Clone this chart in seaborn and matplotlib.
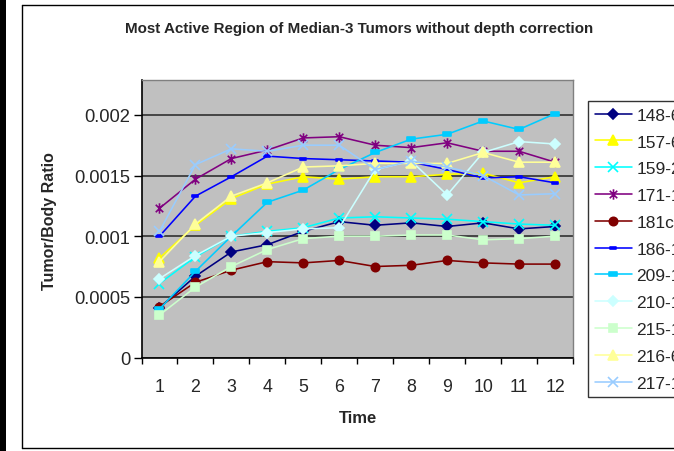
import numpy as np
import pandas as pd
import seaborn as sns
import matplotlib
matplotlib.use("Agg")
import matplotlib.pyplot as plt
from matplotlib.path import Path
from matplotlib.lines import Line2D
from matplotlib.patches import Rectangle

# ---- data -------------------------------------------------------------
time = list(range(1, 13))
tumors = ["148-6", "157-6", "159-2", "171-1", "181c-1", "186-1",
          "209-1", "210-1", "215-1", "216-6", "217-1"]

t148_6 = [0.00041, 0.00067, 0.00087, 0.00093, 0.00104, 0.00112, 0.00109, 0.00111, 0.00108, 0.00111, 0.00106, 0.00108]
t157_6 = [0.00082, 0.00109, 0.00131, 0.00143, 0.00149, 0.00147, 0.00149, 0.00149, 0.00151, 0.00152, 0.00144, 0.00149]
t159_2 = [0.00061, 0.00083, 0.00100, 0.00104, 0.00107, 0.00115, 0.00116, 0.00115, 0.00114, 0.00112, 0.00110, 0.00109]
t171_1 = [0.00123, 0.00147, 0.00164, 0.00171, 0.00181, 0.00182, 0.00175, 0.00173, 0.00177, 0.00170, 0.00170, 0.00161]
t181c_1 = [0.00042, 0.00062, 0.00072, 0.00079, 0.00078, 0.00080, 0.00075, 0.00076, 0.00080, 0.00078, 0.00077, 0.00077]
t186_1 = [0.00100, 0.00133, 0.00149, 0.00166, 0.00164, 0.00163, 0.00162, 0.00161, 0.00155, 0.00148, 0.00149, 0.00144]
t209_1 = [0.00040, 0.00071, 0.00100, 0.00128, 0.00138, 0.00155, 0.00169, 0.00180, 0.00184, 0.00195, 0.00188, 0.00201]
t210_1 = [0.00065, 0.00084, 0.00100, 0.00103, 0.00106, 0.00107, 0.00155, 0.00162, 0.00134, 0.00169, 0.00178, 0.00176]
t215_1 = [0.00035, 0.00058, 0.00075, 0.00089, 0.00098, 0.00100, 0.00100, 0.00101, 0.00101, 0.00097, 0.00098, 0.00100]
t216_6 = [0.00079, 0.00110, 0.00133, 0.00144, 0.00157, 0.00158, 0.00160, 0.00160, 0.00160, 0.00169, 0.00161, 0.00161]
t217_1 = [0.00104, 0.00159, 0.00172, 0.00170, 0.00175, 0.00175, 0.00155, 0.00162, 0.00157, 0.00150, 0.00134, 0.00135]

series = [t148_6, t157_6, t159_2, t171_1, t181c_1, t186_1,
          t209_1, t210_1, t215_1, t216_6, t217_1]

y_ticks = [0, 0.0005, 0.001, 0.0015, 0.002]
y_tick_labels = ["0", "0.0005", "0.001", "0.0015", "0.002"]

df = pd.DataFrame({
    "Time": np.tile(time, len(tumors)),
    "Ratio": np.concatenate(series),
    "Tumor": np.repeat(tumors, len(time)),
})

# ---- marker shapes ----------------------------------------------------
asterisk = Path(
    [(0, -1), (0, 1), (-0.72, -0.72), (0.72, 0.72), (-0.72, 0.72), (0.72, -0.72)],
    [Path.MOVETO, Path.LINETO, Path.MOVETO, Path.LINETO, Path.MOVETO, Path.LINETO],
)
dash = Path(
    [(-1, -0.4), (1, -0.4), (1, 0.4), (-1, 0.4), (-1, -0.4)],
    [Path.MOVETO, Path.LINETO, Path.LINETO, Path.LINETO, Path.CLOSEPOLY],
)

styles = {
    "148-6":  dict(color="#000080", marker="D", ms=4.6),
    "157-6":  dict(color="#FFFF00", marker="^", ms=7.5),
    "159-2":  dict(color="#00FFFF", marker="x", ms=6.5),
    "171-1":  dict(color="#800080", marker=asterisk, ms=7.5),
    "181c-1": dict(color="#800000", marker="o", ms=6.0),
    "186-1":  dict(color="#0000FF", marker=dash, ms=3.8),
    "209-1":  dict(color="#00CCFF", marker=dash, ms=5.8),
    "210-1":  dict(color="#CCFFFF", marker="D", ms=5.0),
    "215-1":  dict(color="#CCFFCC", marker="s", ms=5.4),
    "216-6":  dict(color="#FFFF99", marker="^", ms=7.5),
    "217-1":  dict(color="#99CCFF", marker="x", ms=6.5),
}

# ---- figure -----------------------------------------------------------
sns.set_style("white")
plt.rcParams["font.family"] = ["Liberation Sans", "DejaVu Sans"]

W, H = 674, 452
fig = plt.figure(figsize=(W / 100, H / 100), dpi=100)
fig.patch.set_facecolor("white")

ax = fig.add_axes([141.5 / W, 1 - 358.5 / H, (573 - 141.5) / W, (358.5 - 80.7) / H])
ax.set_facecolor("#C0C0C0")

for name in tumors:
    st = styles[name]
    sub = df[df["Tumor"] == name]
    sns.lineplot(data=sub, x="Time", y="Ratio", ax=ax, color=st["color"],
                 marker=st["marker"], markersize=st["ms"],
                 markeredgecolor=st["color"], markerfacecolor=st["color"],
                 markeredgewidth=1.2, linewidth=1.15, label=name,
                 errorbar=None, zorder=3)

# axes ranges and ticks
ax.set_xlim(0.5, 12.5)
ax.set_ylim(0, 0.00229)
ax.set_xticks(np.arange(0.5, 13, 1))
ax.set_xticklabels([])
ax.set_xticks(time, minor=True)
ax.set_xticklabels([str(t) for t in time], minor=True)
ax.set_yticks(y_ticks)
ax.set_yticklabels(y_tick_labels)

ax.tick_params(axis="x", which="major", direction="out", length=4, width=1, color="black")
ax.tick_params(axis="x", which="minor", length=0, pad=14.5, labelsize=12.8)
ax.tick_params(axis="y", direction="out", length=6, width=1, color="black", pad=2, labelsize=13.2)
ax.tick_params(left=True, bottom=True)

ax.yaxis.grid(True, color="#303030", linewidth=1.2)
ax.xaxis.grid(False)
ax.set_axisbelow(True)

for side in ["left", "bottom"]:
    ax.spines[side].set_color("black")
    ax.spines[side].set_linewidth(1.2)
for side in ["top", "right"]:
    ax.spines[side].set_color("#808080")
    ax.spines[side].set_linewidth(1.0)

ax.set_xlabel("Time", fontsize=12, fontweight="bold")
ax.set_ylabel("Tumor/Body Ratio", fontsize=11.5, fontweight="bold")
ax.xaxis.set_label_coords(358 / W, 1 - 418.5 / H, transform=fig.transFigure)
ax.yaxis.set_label_coords(49.5 / W, 1 - 221 / H, transform=fig.transFigure)
ax.xaxis.label.set_va("center")
ax.yaxis.label.set_va("center")

fig.text(359 / W, 1 - 28.5 / H,
         "Most Active Region of Median-3 Tumors without depth correction",
         ha="center", va="center", fontsize=10.9, fontweight="bold")

# legend
handles, labels = ax.get_legend_handles_labels()
leg = ax.legend(handles, labels, loc="upper left",
                bbox_to_anchor=(588 / W, 1 - 102 / H), bbox_transform=fig.transFigure,
                frameon=True, fancybox=False, shadow=False, fontsize=12.5,
                borderaxespad=0, borderpad=0.38, labelspacing=0.67,
                handlelength=2.15, handletextpad=0.25)
leg.get_frame().set_edgecolor("black")
leg.get_frame().set_linewidth(1.0)
leg.get_frame().set_facecolor("white")

# chart border and left edge band
fig.add_artist(Rectangle((0, 0), 6 / W, 1, transform=fig.transFigure,
                         facecolor="black", edgecolor="none"))
fig.add_artist(Line2D([21.5 / W, 21.5 / W], [1 - 6 / H, 1 - 448.5 / H],
                      transform=fig.transFigure, color="black", linewidth=1.0))
fig.add_artist(Line2D([21.5 / W, 1], [1 - 6 / H, 1 - 6 / H],
                      transform=fig.transFigure, color="black", linewidth=1.0))
fig.add_artist(Line2D([21.5 / W, 1], [1 - 448.5 / H, 1 - 448.5 / H],
                      transform=fig.transFigure, color="black", linewidth=1.0))

fig.savefig("out.png", dpi=100)
